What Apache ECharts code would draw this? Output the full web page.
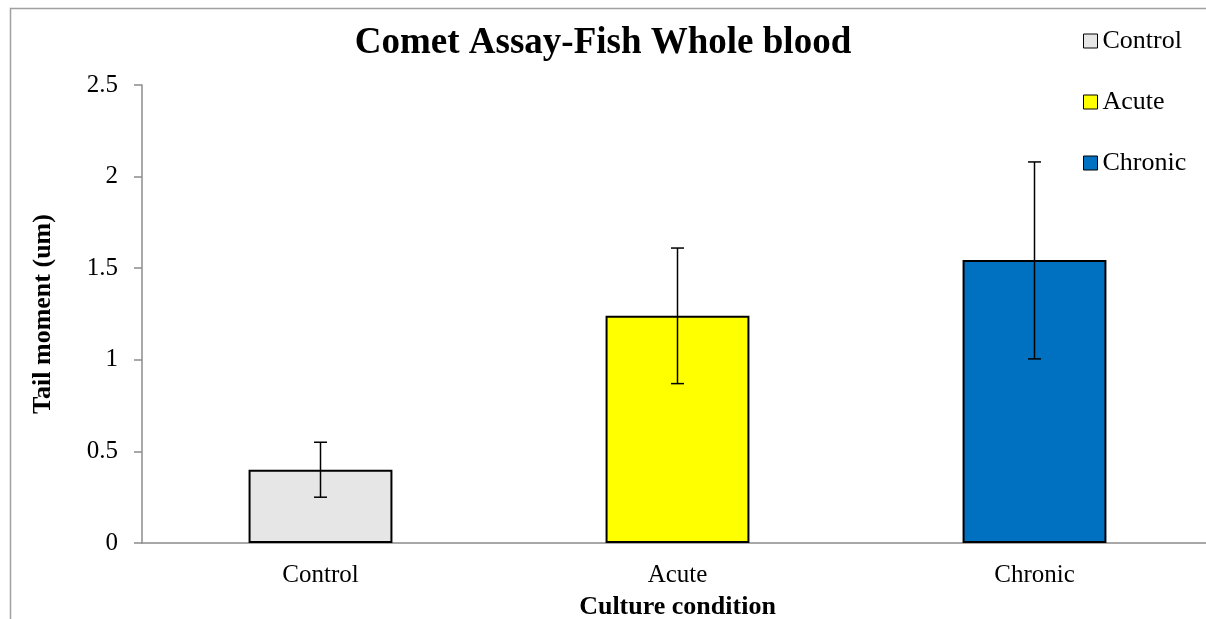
<!DOCTYPE html>
<html>
<head>
<meta charset="utf-8">
<script src="https://cdn.jsdelivr.net/npm/echarts@6/dist/echarts.min.js"></script>
<style>
  html, body { margin: 0; padding: 0; background: #fff; }
  #chart { width: 1206px; height: 619px; }
</style>
</head>
<body>
<div id="chart"></div>
<script>
// data
var categories = ['Control', 'Acute', 'Chronic'];
var barValues = [0.40, 1.24, 1.545];
var errLow = [0.25, 0.87, 1.005];
var errHigh = [0.55, 1.61, 2.08];
var barColors = ['#e6e6e6', '#ffff00', '#0070c0'];
var yTicks = [0, 0.5, 1, 1.5, 2, 2.5];

var FONT = '"Liberation Serif", "Times New Roman", serif';

window.onload = function () {
    var chart = echarts.init(document.getElementById('chart'));

    // one bar series per category so the legend gets three entries
    var barSeries = categories.map(function (name, i) {
        var d = categories.map(function (c, j) { return j === i ? barValues[i] : '-'; });
        return {
            type: 'bar',
            name: name,
            data: d,
            barWidth: '40.3%',
            barGap: '-100%',
            itemStyle: { color: barColors[i], borderColor: '#000', borderWidth: 2 },
            z: 2
        };
    });

    var errData = categories.map(function (c, i) { return [i, errLow[i], errHigh[i]]; });

    var option = {
        animation: false,
        textStyle: { fontFamily: FONT, color: '#000' },
        graphic: [{
            type: 'rect',
            shape: { x: 10.5, y: 8.5, width: 1400, height: 800 },
            style: { fill: 'none', stroke: '#a0a0a0', lineWidth: 1.5 },
            silent: true
        }],
        title: {
            text: 'Comet Assay-Fish Whole blood',
            left: 'center',
            top: 20,
            textStyle: { fontFamily: FONT, fontSize: 37, fontWeight: 'bold', color: '#000' }
        },
        legend: {
            orient: 'vertical',
            left: 1078,
            top: 23,
            itemWidth: 14,
            itemHeight: 14,
            itemGap: 35,
            icon: 'rect',
            data: categories,
            itemStyle: { borderColor: '#000', borderWidth: 1 },
            textStyle: { fontFamily: FONT, fontSize: 26, color: '#000' }
        },
        grid: {
            left: 142,
            top: 85,
            width: 1071,
            bottom: 76,
            outerBoundsMode: 'none'
        },
        xAxis: {
            type: 'category',
            data: categories,
            name: 'Culture condition',
            nameLocation: 'middle',
            nameGap: 51,
            nameTextStyle: { fontFamily: FONT, fontSize: 26, fontWeight: 'bold', color: '#000' },
            axisLine: { lineStyle: { color: '#8c8c8c', width: 1.5 } },
            axisTick: { show: false },
            axisLabel: { fontFamily: FONT, fontSize: 25, color: '#000', margin: 20 },
            splitLine: { show: false }
        },
        yAxis: {
            type: 'value',
            min: yTicks[0],
            max: yTicks[yTicks.length - 1],
            interval: 0.5,
            name: 'Tail moment (um)',
            nameLocation: 'middle',
            nameGap: 86,
            nameTextStyle: { fontFamily: FONT, fontSize: 26, fontWeight: 'bold', color: '#000' },
            axisLine: { show: true, lineStyle: { color: '#8c8c8c', width: 1.5 } },
            axisTick: { show: true, length: 8, lineStyle: { color: '#8c8c8c', width: 1.5 } },
            axisLabel: { fontFamily: FONT, fontSize: 25, color: '#000', margin: 24 },
            splitLine: { show: false }
        },
        series: barSeries.concat([{
            type: 'custom',
            name: 'error',
            data: errData,
            z: 5,
            renderItem: function (params, api) {
                var lo = api.coord([api.value(0), api.value(1)]);
                var hi = api.coord([api.value(0), api.value(2)]);
                var w = 6.5;
                var st = { stroke: '#000', lineWidth: 1.5 };
                return {
                    type: 'group',
                    children: [
                        { type: 'line', shape: { x1: hi[0], y1: hi[1], x2: lo[0], y2: lo[1] }, style: st },
                        { type: 'line', shape: { x1: hi[0] - w, y1: hi[1], x2: hi[0] + w, y2: hi[1] }, style: st },
                        { type: 'line', shape: { x1: lo[0] - w, y1: lo[1], x2: lo[0] + w, y2: lo[1] }, style: st }
                    ]
                };
            }
        }])
    };

    chart.setOption(option);
};
</script>
</body>
</html>
